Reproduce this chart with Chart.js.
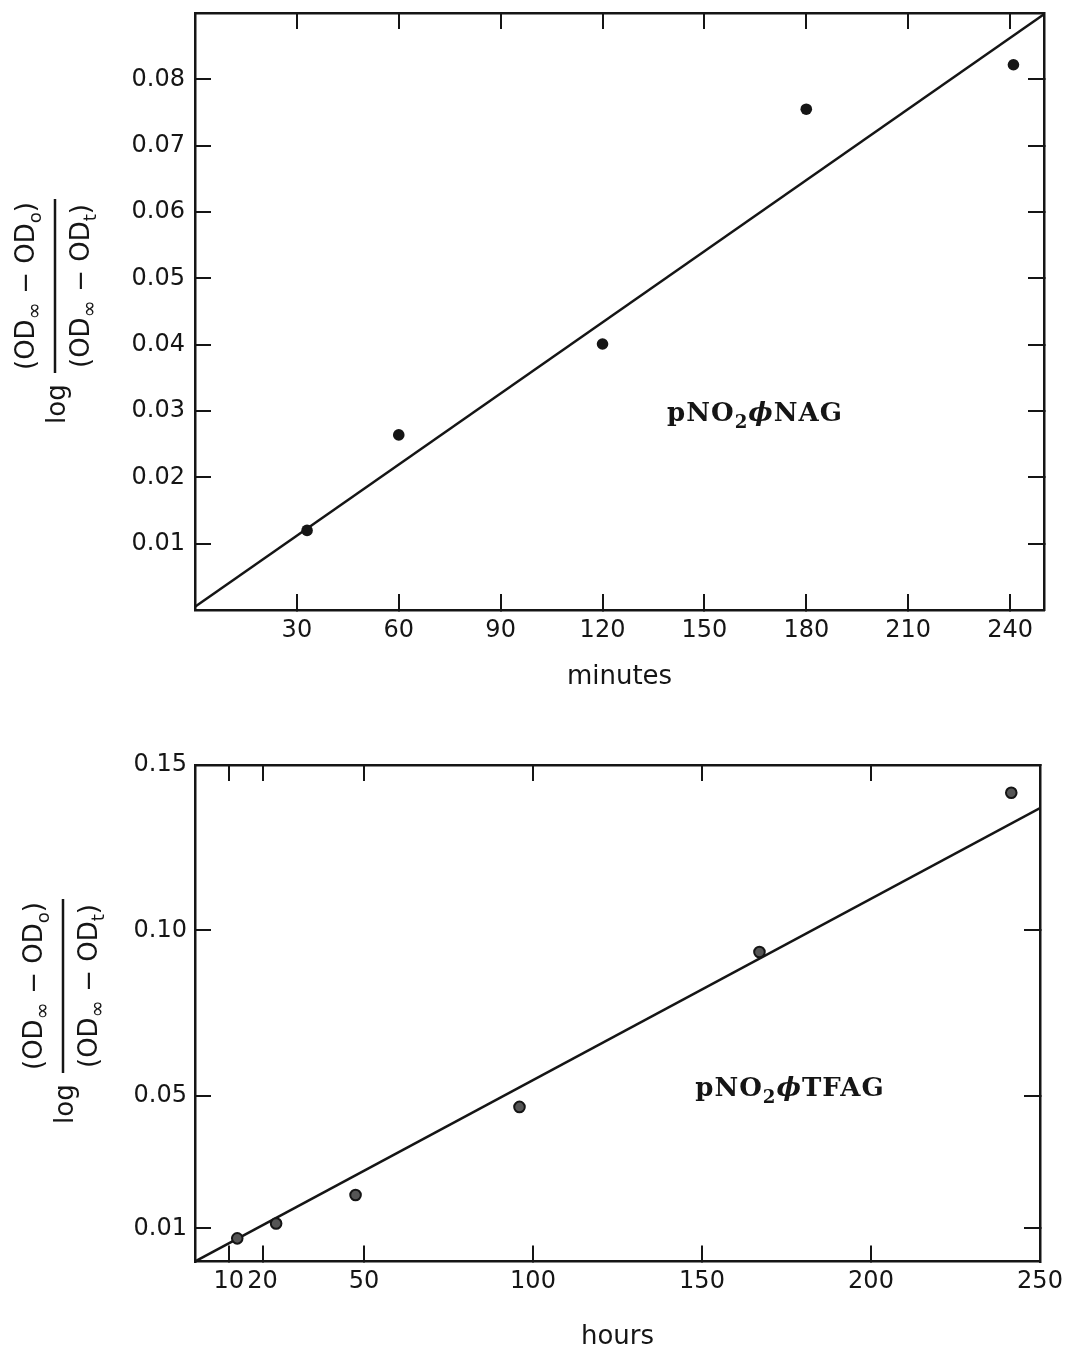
<!DOCTYPE html>
<html>
<head>
<meta charset="utf-8">
<script src="https://cdn.jsdelivr.net/npm/chart.js@4.4.0/dist/chart.umd.min.js"></script>
<style>
  html, body { margin: 0; padding: 0; background: #fff; }
  #wrap { position: relative; width: 1072px; height: 1352px; }
  canvas { position: absolute; left: 0; }
  #chart-nag { top: 0; }
  #chart-tfag { top: 700px; }
</style>
</head>
<body>
<div id="wrap">
  <canvas id="chart-nag" width="1072" height="700"></canvas>
  <canvas id="chart-tfag" width="1072" height="652"></canvas>
</div>
<script>
// top panel: pNO2-phenyl NAG, time in minutes
const minutes = [33, 60, 120, 180, 241];
const nagLog = [0.0120, 0.0264, 0.0401, 0.0755, 0.0822];
const nagFitX = [0, 250];
const nagFitY = [0.0005, 0.0898];
const minuteTicks = [30, 60, 90, 120, 150, 180, 210, 240];
const minuteLabels = ['30', '60', '90', '120', '150', '180', '210', '240'];
const nagYTicks = [0.01, 0.02, 0.03, 0.04, 0.05, 0.06, 0.07, 0.08];
const nagYLabels = ['0.01', '0.02', '0.03', '0.04', '0.05', '0.06', '0.07', '0.08'];

// bottom panel: pNO2-phenyl TFAG, time in hours
const hours = [12.5, 24, 47.5, 96, 167, 241.5];
const tfagLog = [0.0070, 0.0115, 0.0201, 0.0467, 0.0935, 0.1416];
const tfagFitX = [0, 250];
const tfagFitY = [0, 0.137];
const hourTicks = [10, 20, 50, 100, 150, 200, 250];
const hourLabels = ['10', '20', '50', '100', '150', '200', '250'];
const tfagYTicks = [0.01, 0.05, 0.10, 0.15];
const tfagYLabels = ['0.01', '0.05', '0.10', '0.15'];

const INK = '#151515';
const SANS = "'DejaVu Sans', 'Liberation Sans', sans-serif";
const SERIF = "'DejaVu Serif', 'Liberation Serif', serif";
const TICK_FONT = { family: SANS, size: 24 };

const NUM_RUNS = [{ t: '(OD' }, { t: '∞', sub: 0.8 }, { t: ' − OD' }, { t: 'o', sub: 0.7 }, { t: ')' }];
const DEN_RUNS = [{ t: '(OD' }, { t: '∞', sub: 0.8 }, { t: ' − OD' }, { t: 't', sub: 0.7 }, { t: ')' }];

function fixedTicks(values) {
  return (scale) => { scale.ticks = values.map((v) => ({ value: v })); };
}

function fitTo(prop, size) {
  return (s) => {
    s[prop] = size;
    // no extra room for overhanging end labels, the plot box is placed by hand
    s.paddingLeft = s.paddingRight = s.paddingTop = s.paddingBottom = 0;
  };
}

function runFont(r, size, family, weight) {
  const px = r.sub ? size * r.sub : size;
  return `${r.it ? 'italic ' : ''}${weight || ''} ${px}px ${family}`;
}

function runsWidth(ctx, runs, size, family, weight) {
  let w = 0;
  runs.forEach((r) => {
    ctx.font = runFont(r, size, family, weight);
    w += ctx.measureText(r.t).width;
  });
  return w;
}

function drawRuns(ctx, runs, x, y, size, family, weight) {
  ctx.textAlign = 'left';
  ctx.textBaseline = 'alphabetic';
  runs.forEach((r) => {
    ctx.font = runFont(r, size, family, weight);
    ctx.fillText(r.t, x, y + (r.sub ? size * 0.26 : 0));
    x += ctx.measureText(r.t).width;
  });
}

function drawYTitle(ctx, cx, cy) {
  ctx.save();
  ctx.translate(cx, cy);
  ctx.rotate(-Math.PI / 2);
  ctx.fillStyle = INK;
  ctx.strokeStyle = INK;
  const wn = runsWidth(ctx, NUM_RUNS, 26, SANS);
  drawRuns(ctx, NUM_RUNS, -wn / 2, -21, 26, SANS);
  const wd = runsWidth(ctx, DEN_RUNS, 26, SANS);
  drawRuns(ctx, DEN_RUNS, -wd / 2, 34, 26, SANS);
  ctx.lineWidth = 2.5;
  ctx.beginPath();
  ctx.moveTo(-87, 0);
  ctx.lineTo(87, 0);
  ctx.stroke();
  ctx.font = `26px ${SANS}`;
  ctx.fillText('log', -138, 10);
  ctx.restore();
}

function figureText(cfg) {
  return {
    id: 'figureText',
    afterDraw(chart) {
      const { ctx } = chart;
      drawYTitle(ctx, cfg.titleX, cfg.titleY);
      const x = chart.scales.x.getPixelForValue(cfg.labelAt[0]);
      const y = chart.scales.y.getPixelForValue(cfg.labelAt[1]);
      ctx.save();
      ctx.fillStyle = INK;
      if ('letterSpacing' in ctx) ctx.letterSpacing = '1px';
      drawRuns(ctx, cfg.label, x, y, 26, SERIF, 'bold');
      ctx.restore();
    },
  };
}

function panelScales(p) {
  const grid = { drawOnChartArea: false, drawTicks: true, tickLength: -16, color: INK, lineWidth: 2 };
  const border = { display: true, color: INK, width: 2.5 };
  return {
    x: {
      type: 'linear', position: 'bottom', min: 0, max: 250,
      afterBuildTicks: fixedTicks(p.xTicks),
      afterFit: fitTo('height', p.axisHeight),
      grid, border,
      ticks: { font: TICK_FONT, color: INK, padding: 22, maxRotation: 0, autoSkip: false, callback: (v, i) => p.xLabels[i] },
      title: { display: true, text: p.xTitle, color: INK, font: { family: SANS, size: 26, lineHeight: 1.1 }, padding: { top: 0, bottom: p.titlePad } },
    },
    x2: {
      type: 'linear', position: 'top', min: 0, max: 250,
      afterBuildTicks: fixedTicks(p.xTicks),
      afterFit: fitTo('height', 0),
      grid, border, ticks: { display: false },
    },
    y: {
      type: 'linear', position: 'left', min: 0, max: p.yMax,
      afterBuildTicks: fixedTicks(p.yTicks),
      afterFit: fitTo('width', 195),
      grid, border,
      ticks: { font: TICK_FONT, color: INK, padding: p.yPad, autoSkip: false, callback: (v, i) => p.yLabels[i] },
    },
    y2: {
      type: 'linear', position: 'right', min: 0, max: p.yMax,
      afterBuildTicks: fixedTicks(p.yTicks),
      afterFit: fitTo('width', 0),
      grid, border, ticks: { display: false },
    },
  };
}

function makePanel(id, d) {
  return new Chart(document.getElementById(id), {
    type: 'scatter',
    data: {
      datasets: [
        {
          data: d.xs.map((x, i) => ({ x, y: d.ys[i] })),
          pointRadius: d.pointRadius,
          backgroundColor: d.pointFill,
          borderColor: INK,
          borderWidth: d.pointBorder,
        },
        {
          data: d.fitX.map((x, i) => ({ x, y: d.fitY[i] })),
          showLine: true,
          borderColor: INK,
          borderWidth: 2.5,
          pointRadius: 0,
          tension: 0,
        },
      ],
    },
    options: {
      responsive: false,
      animation: false,
      layout: { padding: d.padding },
      plugins: { legend: { display: false }, tooltip: { enabled: false } },
      scales: panelScales(d),
    },
    plugins: [figureText(d)],
  });
}

makePanel('chart-nag', {
  xs: minutes, ys: nagLog, fitX: nagFitX, fitY: nagFitY,
  xTicks: minuteTicks, xLabels: minuteLabels, yTicks: nagYTicks, yLabels: nagYLabels,
  yMax: 0.09, xTitle: 'minutes', axisHeight: 90, titlePad: 8, yPad: 26,
  padding: { top: 13, right: 28, bottom: 0, left: 0 },
  pointRadius: 5.8, pointFill: INK, pointBorder: 0,
  titleX: 55, titleY: 286,
  label: [{ t: 'pNO' }, { t: '2', sub: 0.7 }, { t: 'ϕ', it: true }, { t: 'NAG' }], labelAt: [139, 0.0285],
});

makePanel('chart-tfag', {
  xs: hours, ys: tfagLog, fitX: tfagFitX, fitY: tfagFitY,
  xTicks: hourTicks, xLabels: hourLabels, yTicks: tfagYTicks, yLabels: tfagYLabels,
  yMax: 0.15, xTitle: 'hours', axisHeight: 90.5, titlePad: 0, yPad: 24,
  padding: { top: 65, right: 32, bottom: 0, left: 0 },
  pointRadius: 5.3, pointFill: '#555', pointBorder: 2,
  titleX: 63, titleY: 286,
  label: [{ t: 'pNO' }, { t: '2', sub: 0.7 }, { t: 'ϕ', it: true }, { t: 'TFAG' }], labelAt: [148, 0.0500],
});
</script>
</body>
</html>
